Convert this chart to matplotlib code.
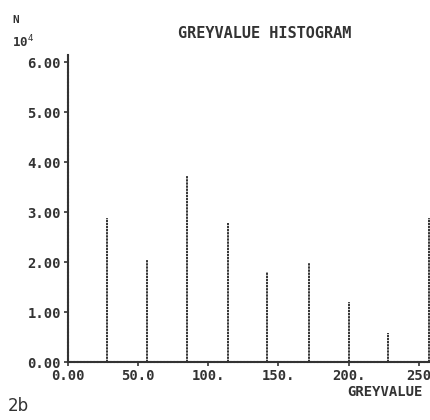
import matplotlib.pyplot as plt
import numpy as np

# grey value bins and counts (units of 10^4)
greyvalue = [28, 56, 85, 114, 142, 172, 200, 228, 257]
counts = [2.88, 2.04, 3.72, 2.78, 1.80, 1.98, 1.20, 0.58, 2.88]

yticks = [0, 1, 2, 3, 4, 5, 6]
ytick_labels = ['0.00', '1.00', '2.00', '3.00', '4.00', '5.00', '6.00']
xticks = [0, 50, 100, 150, 200, 250]
xtick_labels = ['0.00', '50.0', '100.', '150.', '200.', '250']

ink = '#333333'
font = dict(family='DejaVu Sans Mono', weight='bold', color=ink)

fig = plt.figure(figsize=(4.3, 4.2), dpi=100)
ax = fig.add_axes([0.158, 0.138, 0.842, 0.732])

ax.vlines(greyvalue, 0, counts, colors=ink, linewidth=1.4, linestyles=(0, (1.2, 0.4)))

ax.set_xlim(0, 258)
ax.set_ylim(0, 6.15)
ax.set_xticks(xticks)
ax.set_xticklabels(xtick_labels, fontsize=10, **font)
ax.set_yticks(yticks)
ax.set_yticklabels(ytick_labels, fontsize=10, **font)
ax.tick_params(length=3, width=1.2, color=ink, pad=2)

for s in ['top', 'right']:
    ax.spines[s].set_visible(False)
for s in ['left', 'bottom']:
    ax.spines[s].set_linewidth(1.5)
    ax.spines[s].set_color(ink)
    ax.spines[s].set_linestyle((0, (1.2, 0.4)))

fig.text(265 / 430, 1 - 33 / 420, 'GREYVALUE HISTOGRAM', ha='center', va='center', fontsize=11, **font)
fig.text(12 / 430, 1 - 20 / 420, 'N', ha='left', va='center', fontsize=8, **font)
fig.text(12 / 430, 1 - 42 / 420, r'10$^4$', ha='left', va='center', fontsize=9, **font)
fig.text(347 / 430, 1 - 392 / 420, 'GREYVALUE', ha='left', va='center', fontsize=10, **font)
fig.text(8 / 430, 1 - 406 / 420, '2b', ha='left', va='center', fontsize=12, color='#333333')

fig.savefig('out.png', dpi=100)
